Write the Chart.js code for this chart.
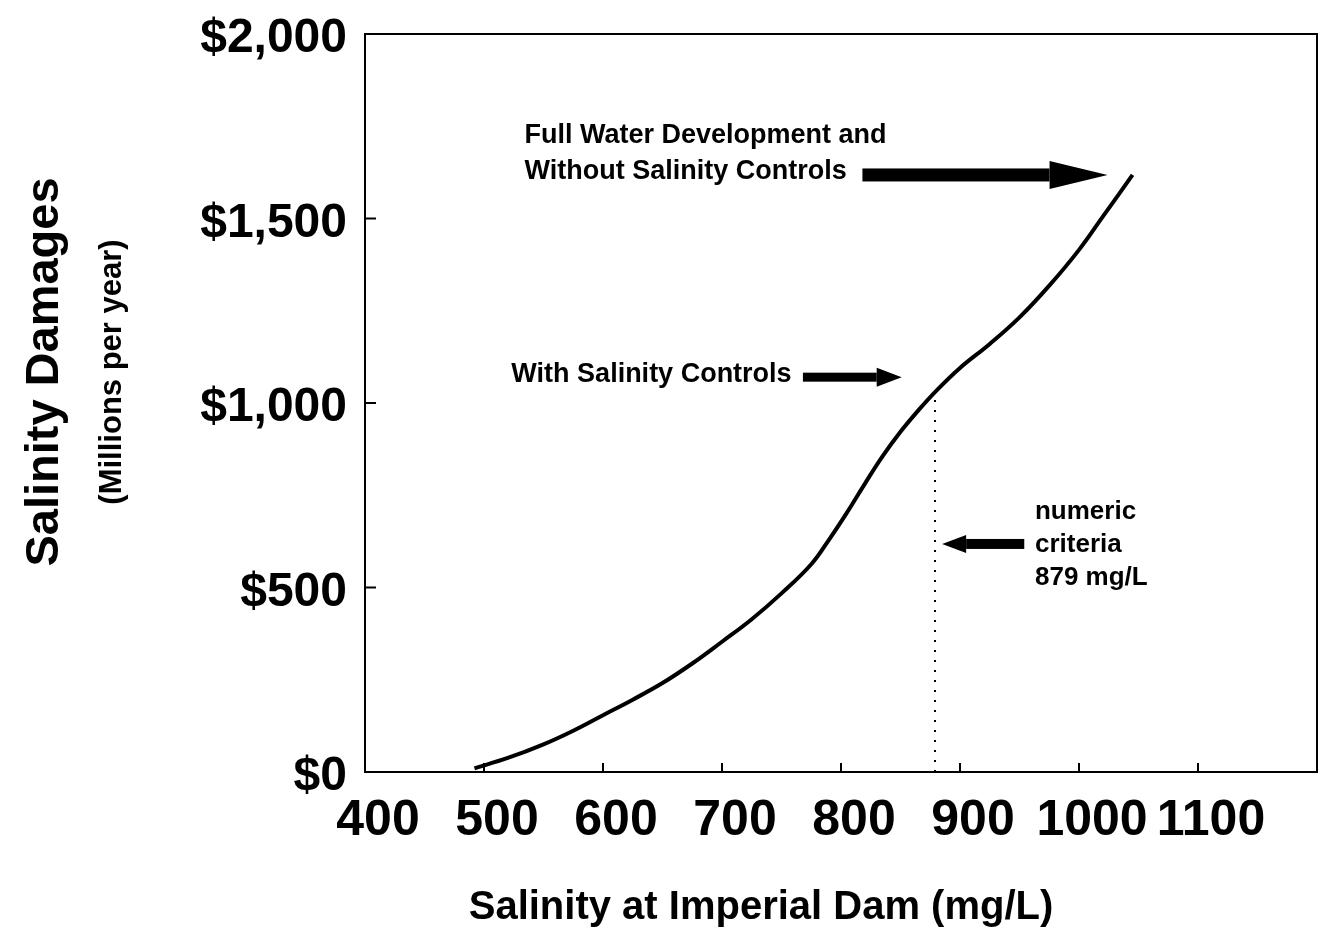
<!DOCTYPE html>
<html>
<head>
<meta charset="utf-8">
<script src="https://cdn.jsdelivr.net/npm/chart.js@4.4.0/dist/chart.umd.min.js"></script>
<style>
  html, body { margin: 0; padding: 0; background: #fff; }
  #wrap { width: 1322px; height: 940px; }
</style>
</head>
<body>
<div id="wrap"><canvas id="salinityChart"></canvas></div>
<script>
'use strict';

// salinity damage curve
var salinity = [492, 520, 550, 575, 600, 625, 650, 675, 700, 725, 750, 775, 790, 805, 820, 835, 850, 865, 880, 900, 925, 950, 975, 1000, 1020, 1045];
var damages  = [10, 38, 75, 112, 154, 196, 241, 294, 353, 414, 484, 563, 630, 703, 781, 856, 922, 980, 1033, 1095, 1160, 1232, 1318, 1415, 1505, 1618];

// numeric criteria line
var criteriaX = [879, 879];
var criteriaY = [0, 1016];

var xTicks = [400, 500, 600, 700, 800, 900, 1000, 1100];
var yTicks = [0, 500, 1000, 1500, 2000];

var FONT = "'Liberation Sans', Arial, Helvetica, sans-serif";

function toPoints(xs, ys) {
  return xs.map(function (x, i) { return { x: x, y: ys[i] }; });
}

// notes and arrows, placed in data units
var notes = [
  { text: 'Full Water Development and', x: 534, y: 1726, size: 27 },
  { text: 'Without Salinity Controls', x: 534, y: 1626, size: 27 },
  { text: 'With Salinity Controls', x: 523, y: 1076, size: 27 },
  { text: 'numeric', x: 963, y: 705, size: 26 },
  { text: 'criteria', x: 963, y: 615, size: 26 },
  { text: '879 mg/L', x: 963, y: 526, size: 26 }
];
var arrows = [
  { from: 818, to: 1024, y: 1618, shaft: 13, headL: 58, headH: 28 },
  { from: 768, to: 851, y: 1070, shaft: 9, headL: 25, headH: 19 },
  { from: 954, to: 885, y: 618, shaft: 10, headL: 24, headH: 18 }
];

var decorPlugin = {
  id: 'decor',
  afterDraw: function (chart) {
    var ctx = chart.ctx;
    var a = chart.chartArea;
    var xs = chart.scales.x, ys = chart.scales.y;
    ctx.save();

    // frame
    ctx.strokeStyle = '#000';
    ctx.lineWidth = 2;
    ctx.strokeRect(a.left, a.top, a.right - a.left, a.bottom - a.top);

    // inward ticks
    ctx.beginPath();
    xs.ticks.forEach(function (t) {
      var px = xs.getPixelForValue(t.value);
      ctx.moveTo(px, a.bottom);
      ctx.lineTo(px, a.bottom - 9);
    });
    ys.ticks.forEach(function (t) {
      var py = ys.getPixelForValue(t.value);
      ctx.moveTo(a.left, py);
      ctx.lineTo(a.left + 11, py);
    });
    ctx.stroke();

    // arrows
    ctx.fillStyle = '#000';
    arrows.forEach(function (ar) {
      var x1 = xs.getPixelForValue(ar.from);
      var x2 = xs.getPixelForValue(ar.to);
      var y = ys.getPixelForValue(ar.y);
      var dir = x2 > x1 ? 1 : -1;
      var xb = x2 - dir * ar.headL;
      ctx.fillRect(Math.min(x1, xb), y - ar.shaft / 2, Math.abs(xb - x1), ar.shaft);
      ctx.beginPath();
      ctx.moveTo(x2, y);
      ctx.lineTo(xb, y - ar.headH / 2);
      ctx.lineTo(xb, y + ar.headH / 2);
      ctx.closePath();
      ctx.fill();
    });

    // notes
    ctx.textAlign = 'left';
    ctx.textBaseline = 'middle';
    notes.forEach(function (n) {
      ctx.font = 'bold ' + n.size + 'px ' + FONT;
      ctx.fillText(n.text, xs.getPixelForValue(n.x), ys.getPixelForValue(n.y));
    });

    // axis titles
    ctx.textAlign = 'center';
    ctx.font = 'bold 40px ' + FONT;
    ctx.fillText('Salinity at Imperial Dam (mg/L)', 761, 908);

    ctx.translate(0, 372);
    ctx.rotate(-Math.PI / 2);
    ctx.font = 'bold 47px ' + FONT;
    ctx.fillText('Salinity Damages', 0, 45);
    ctx.font = 'bold 31px ' + FONT;
    ctx.fillText('(Millions per year)', 0, 112);
    ctx.restore();
  }
};

var ctx = document.getElementById('salinityChart').getContext('2d');
var salinityChart = new Chart(ctx, {
  type: 'line',
  data: {
    datasets: [{
      data: toPoints(salinity, damages),
      borderColor: '#000',
      borderWidth: 4,
      pointRadius: 0,
      tension: 0.4,
      fill: false
    }, {
      data: toPoints(criteriaX, criteriaY),
      borderColor: '#000',
      borderWidth: 2,
      borderDash: [2, 8],
      pointRadius: 0,
      fill: false
    }]
  },
  options: {
    responsive: true,
    maintainAspectRatio: false,
    animation: false,
    layout: { padding: { top: 34, right: 5, bottom: 0, left: 0 } },
    plugins: {
      legend: { display: false },
      tooltip: { enabled: false }
    },
    scales: {
      x: {
        type: 'linear',
        min: 400,
        max: 1200,
        afterBuildTicks: function (scale) {
          scale.ticks = xTicks.map(function (v) { return { value: v }; });
        },
        afterFit: function (scale) { scale.height = 168; },
        grid: { display: false },
        border: { display: false },
        ticks: {
          color: '#000',
          font: { family: FONT, size: 50, weight: 'bold' },
          padding: 11,
          labelOffset: 13,
          maxRotation: 0,
          autoSkip: false,
          callback: function (v) { return String(v); }
        }
      },
      y: {
        min: 0,
        max: 2000,
        afterBuildTicks: function (scale) {
          scale.ticks = yTicks.map(function (v) { return { value: v }; });
        },
        afterFit: function (scale) {
          scale.width = 365;
          scale.paddingTop = 0;
          scale.paddingBottom = 0;
        },
        grid: { display: false },
        border: { display: false },
        ticks: {
          color: '#000',
          font: { family: FONT, size: 48, weight: 'bold' },
          padding: 10,
          labelOffset: 5,
          callback: function (v) { return '$' + v.toLocaleString('en-US'); }
        }
      }
    }
  },
  plugins: [decorPlugin]
});
</script>
</body>
</html>
